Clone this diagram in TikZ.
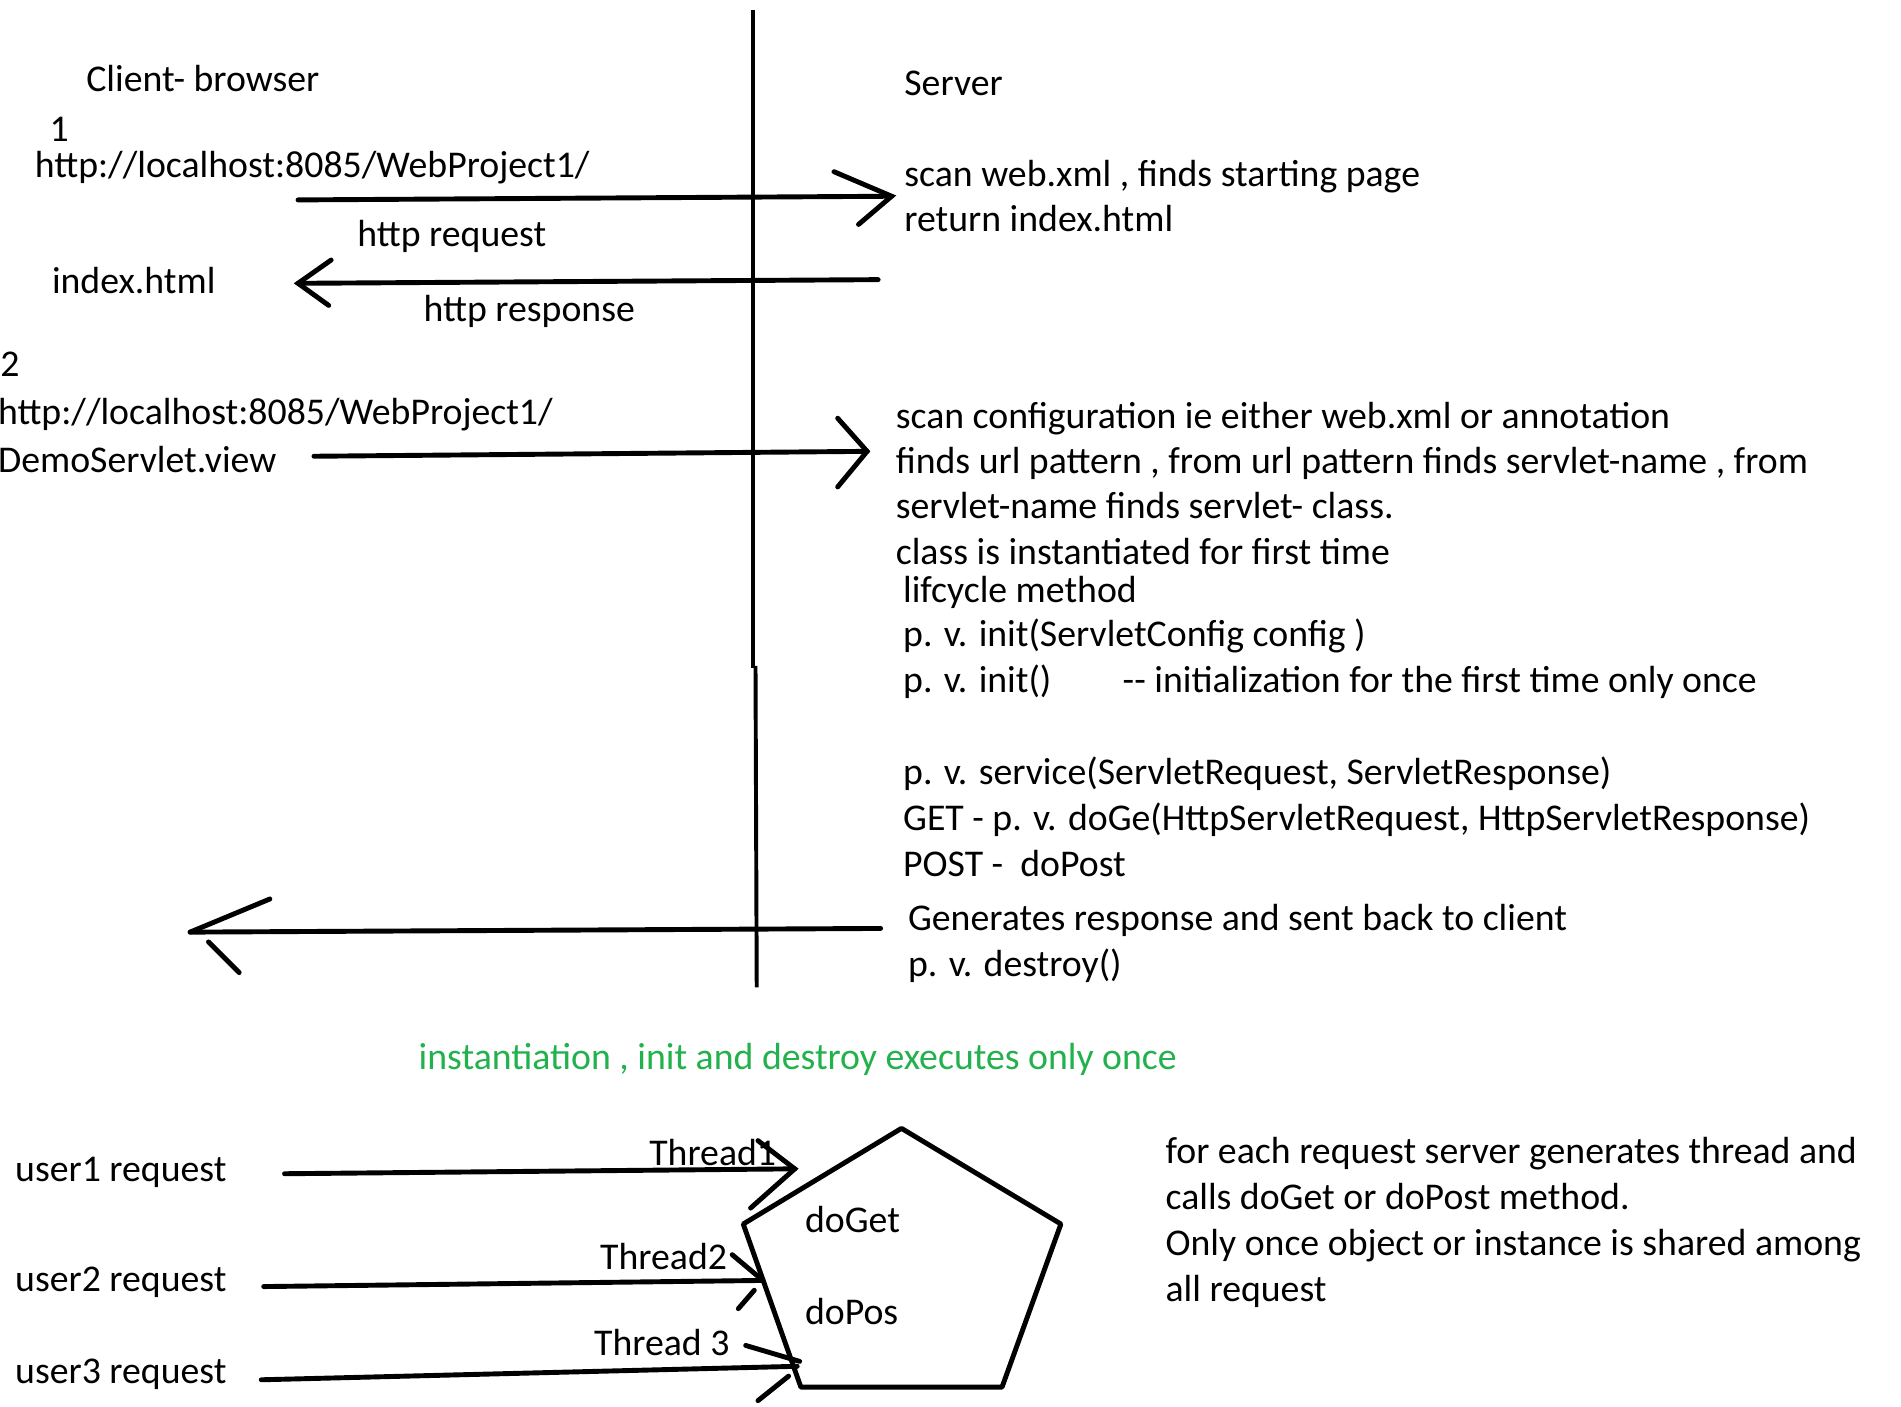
\documentclass[tikz,border=0pt]{standalone}
\usepackage{fontspec}
\setmainfont{Carlito}
\usetikzlibrary{calc}
\definecolor{notegreen}{RGB}{34,177,76}

\begin{document}
\begin{tikzpicture}[x=0.5pt,y=-0.5pt,
  txt/.style={anchor=base west,inner sep=0pt,font=\fontsize{15.4}{18}\selectfont},
  pen/.style={line width=2pt,line cap=round},
  divider/.style={line width=1.6pt}]
  \useasboundingbox (0,0) rectangle (1550,1147);
  % client / server divider
  \draw [divider] (614,8) -- (614,545);
  \draw [divider] (616,543) -- (617,805);
  \node [txt] (client) at (70,75) {Client- browser};
  \node [txt] (server) at (737,78) {Server};
  % first request
  \node [txt] (one) at (40,115) {1};
  \node [txt] (url1) at (28,145) {http://localhost:8085/WebProject1/};
  \node [txt] (req) at (291,201) {http request};
  \node [txt] (index) at (42,239) {index.html};
  \node [txt] (resp) at (345,262) {http response};
  \node [txt] (scan1) at (737,152) {scan web.xml , finds starting page};
  \node [txt] (ret1) at (737,189) {return index.html};
  \coordinate (r1s) at (243,163); \coordinate (r1e) at (727,160);
  \coordinate (r2s) at (716,228); \coordinate (r2e) at (243,231);
  \draw [pen] (r1s) -- (r1e);
  \draw [pen] (680,140) -- (r1e) -- (700,183);
  \draw [pen] (r2s) -- (r2e);
  \draw [pen] (270,212) -- (r2e) -- (268,249);
  % second request
  \node [txt] (two) at (0,307) {2};
  \node [txt] (url2) at (-2,346) {http://localhost:8085/WebProject1/};
  \node [txt] (demo) at (-2,385) {DemoServlet.view};
  \coordinate (r3s) at (256,372); \coordinate (r3e) at (707,368);
  \draw [pen] (r3s) -- (r3e);
  \draw [pen] (683,341) -- (r3e) -- (683,397);
  \foreach \y/\t in {349/{scan configuration ie either web.xml or annotation},
      386/{finds url pattern , from url pattern finds servlet-name , from},
      423/{servlet-name finds servlet- class.},
      460/{class is instantiated for first time}}
    \node [txt] at (730,\y) {\t};
  \foreach \y/\t in {491/{lifcycle method},
      527/{p. v. init(ServletConfig config )},
      640/{p. v. service(ServletRequest, ServletResponse)},
      677/{GET - p. v. doGe(HttpServletRequest, HttpServletResponse)},
      715/{POST -\ \ doPost}}
    \node [txt] at (736,\y) {\t};
  \node [txt] (init) at (736,565) {p. v. init()};
  \node [txt] (once) at (915,565) {-{}- initialization for the first time only once};
  \node [txt] (gen) at (740,759) {Generates response and sent back to client};
  \node [txt] (destroy) at (740,796) {p. v. destroy()};
  \coordinate (r4s) at (718,757); \coordinate (r4e) at (155,760);
  \draw [pen] (r4s) -- (r4e);
  \draw [pen] (220,733) -- (r4e);
  \draw [pen] (170,768) -- (195,793);
  % note
  \node [txt,text=notegreen] (note) at (341,872) {instantiation , init and destroy executes only once};
  % threads
  \coordinate (top) at (735,920); \coordinate (rt) at (865,998);
  \coordinate (br) at (817,1131); \coordinate (bl) at (653,1131);
  \coordinate (lt) at (606,998);
  \draw [pen,line join=round] (top) -- (rt) -- (br) -- (bl) -- (lt) -- cycle;
  \node [txt] (doget) at (656,1005) {doGet};
  \node [txt] (dopos) at (656,1080) {doPos};
  \node [txt] (u1) at (12,963) {user1 request};
  \node [txt] (u2) at (12,1053) {user2 request};
  \node [txt] (u3) at (12,1128) {user3 request};
  \node [txt] (t1) at (529,950) {Thread1};
  \node [txt] (t2) at (489,1035) {Thread2};
  \node [txt] (t3) at (484,1105) {Thread 3};
  \coordinate (u1s) at (232,957); \coordinate (u1e) at (648,953);
  \coordinate (u2s) at (215,1049); \coordinate (u2e) at (622,1044);
  \coordinate (u3s) at (213,1125); \coordinate (u3e) at (650,1114);
  \foreach \s/\e in {u1s/u1e,u2s/u2e,u3s/u3e} \draw [pen] (\s) -- (\e);
  \draw [pen] (618,930) -- (u1e) -- (612,985);
  \draw [pen] (597,1023) -- (u2e);
  \draw [pen] (615,1052) -- (602,1067);
  \draw [pen] (608,1097) -- (652,1110);
  \draw [pen] (643,1122) -- (618,1142);
  \foreach \y/\t in {949/{for each request server generates thread and},
      986/{calls doGet or doPost method.},
      1024/{Only once object or instance is shared among},
      1061/{all request}}
    \node [txt] at (950,\y) {\t};
\end{tikzpicture}
\end{document}
